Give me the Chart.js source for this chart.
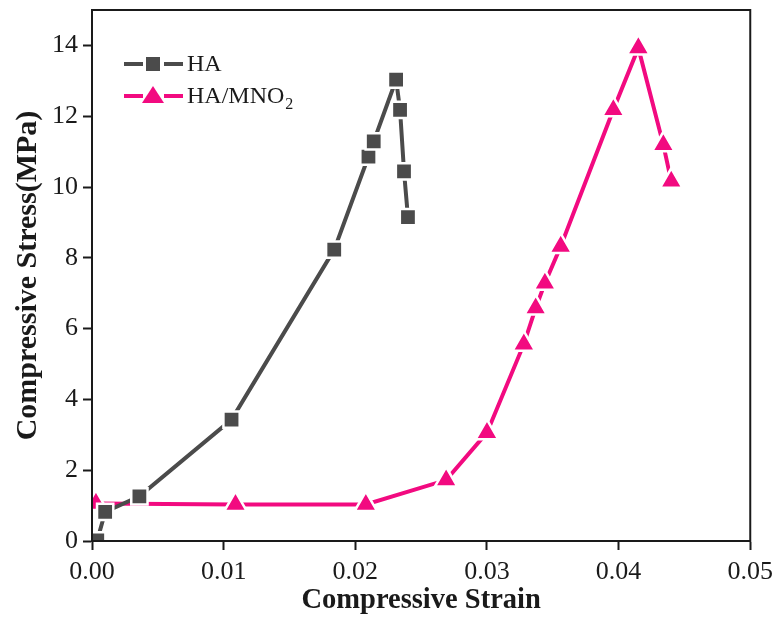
<!DOCTYPE html>
<html>
<head>
<meta charset="utf-8">
<script src="https://cdn.jsdelivr.net/npm/chart.js@4.4.1/dist/chart.umd.min.js"></script>
<style>
  html, body { margin: 0; padding: 0; background: #fff; }
  #wrap { width: 780px; height: 641px; }
</style>
</head>
<body>
<div id="wrap"><canvas id="myChart" width="780" height="641"></canvas></div>
<script>
// data
const haStrain = [0.0004, 0.0010, 0.0036, 0.0106, 0.0184, 0.0210, 0.0214, 0.0231, 0.0234, 0.0237, 0.0240];
const haStress = [0.02, 0.82, 1.26, 3.43, 8.23, 10.86, 11.29, 13.03, 12.18, 10.44, 9.15];

const mnStrain = [0.0003, 0.0109, 0.0208, 0.0269, 0.0300, 0.0328, 0.0337, 0.0344, 0.0356, 0.0396, 0.0415, 0.0434, 0.0440];
const mnStress = [1.06, 1.03, 1.03, 1.72, 3.06, 5.56, 6.58, 7.28, 8.32, 12.18, 13.93, 11.19, 10.16];

const xTicks = [0, 0.01, 0.02, 0.03, 0.04, 0.05];
const yTicks = [0, 2, 4, 6, 8, 10, 12, 14];

const grey = "#4b4b4b";
const pink = "#f20a80";
const serif = "'Liberation Serif', 'Times New Roman', serif";

const toPoints = (xs, ys) => xs.map((x, i) => ({ x: x, y: ys[i] }));

// pin the top of the plot area (chart.js keeps adding room for the top tick label)
const pinTop = {
  id: "pinTop",
  afterLayout(chart) {
    const a = chart.chartArea;
    const y = chart.scales.y;
    const top = 10;
    if (!y || a.top === top) return;
    const old = { yTop: y.top, yH: y.height, aTop: a.top, aH: a.height };
    try {
      y.top = top;
      y.height = y.bottom - top;
      y.configure();
      a.top = top;
      a.height = a.bottom - top;
    } catch (e) {
      y.top = old.yTop; y.height = old.yH; a.top = old.aTop; a.height = old.aH;
      try { y.configure(); } catch (e2) {}
    }
  }
};

// frame (top + right sides) and the legend in Origin style
const framePlugin = {
  id: "frame",
  afterDraw(chart) {
    const { ctx, chartArea: a } = chart;
    ctx.save();
    ctx.strokeStyle = "#1a1a1a";
    ctx.lineWidth = 2;
    ctx.strokeRect(a.left, a.top, a.right - a.left, a.bottom - a.top);

    // legend
    const rows = [
      { y: 64, color: grey, shape: "rect", label: "HA", sub: "" },
      { y: 96, color: pink, shape: "tri", label: "HA/MNO", sub: "2" },
    ];
    rows.forEach(r => {
      ctx.strokeStyle = r.color;
      ctx.lineWidth = 4;
      ctx.beginPath();
      ctx.moveTo(124, r.y); ctx.lineTo(143, r.y);
      ctx.moveTo(164, r.y); ctx.lineTo(183, r.y);
      ctx.stroke();
      ctx.fillStyle = r.color;
      ctx.beginPath();
      if (r.shape === "rect") {
        ctx.rect(146, r.y - 7, 14, 14);
      } else {
        ctx.moveTo(153, r.y - 10);
        ctx.lineTo(164, r.y + 7);
        ctx.lineTo(142, r.y + 7);
        ctx.closePath();
      }
      ctx.fill();
      ctx.fillStyle = "#1a1a1a";
      ctx.font = "24px " + serif;
      ctx.textBaseline = "middle";
      ctx.fillText(r.label, 187, r.y + 1);
      if (r.sub) {
        const w = ctx.measureText(r.label).width;
        ctx.font = "16px " + serif;
        ctx.fillText(r.sub, 187 + w + 1, r.y + 9);
      }
    });
    ctx.restore();
  }
};

const ctx = document.getElementById("myChart");

const chart = new Chart(ctx, {
  type: "scatter",
  data: {
    datasets: [
      {
        label: "HA",
        data: toPoints(haStrain, haStress),
        showLine: true,
        borderColor: grey,
        borderWidth: 4,
        backgroundColor: grey,
        pointStyle: "rect",
        pointRadius: 11.5,
        pointBorderColor: "#fff",
        pointBorderWidth: 2.5,
        pointBackgroundColor: grey,
        tension: 0,
      },
      {
        label: "HA/MNO2",
        data: toPoints(mnStrain, mnStress),
        showLine: true,
        borderColor: pink,
        borderWidth: 4,
        backgroundColor: pink,
        pointStyle: "triangle",
        pointRadius: 13,
        pointBorderColor: "#fff",
        pointBorderWidth: 2.5,
        pointBackgroundColor: pink,
        tension: 0,
      },
    ],
  },
  options: {
    responsive: false,
    animation: false,
    layout: { padding: { left: 0, top: 10, right: 29, bottom: 0 } },
    plugins: {
      legend: { display: false },
      tooltip: { enabled: false },
    },
    scales: {
      x: {
        type: "linear",
        min: 0,
        max: 0.05,
        afterFit: s => { s.height = 100; },
        afterBuildTicks: s => { s.ticks = xTicks.map(v => ({ value: v })); },
        border: { display: true, color: "#1a1a1a", width: 2 },
        grid: { drawOnChartArea: false, drawTicks: true, tickLength: 9, tickColor: "#1a1a1a", tickWidth: 2 },
        ticks: {
          padding: 7,
          color: "#1a1a1a",
          font: { family: serif, size: 26 },
          callback: v => Number(v).toFixed(2),
        },
        title: {
          display: true,
          text: "Compressive Strain",
          color: "#1a1a1a",
          font: { family: serif, size: 28.5, weight: "bold" },
          padding: 23,
        },
      },
      y: {
        type: "linear",
        min: 0,
        max: 15,
        afterFit: s => { s.width = 92; },
        afterBuildTicks: s => { s.ticks = yTicks.map(v => ({ value: v })); },
        border: { display: true, color: "#1a1a1a", width: 2 },
        grid: { drawOnChartArea: false, drawTicks: true, tickLength: 9, tickColor: "#1a1a1a", tickWidth: 2 },
        ticks: {
          padding: 5,
          color: "#1a1a1a",
          font: { family: serif, size: 26 },
        },
        title: {
          display: true,
          text: "Compressive Stress(MPa)",
          color: "#1a1a1a",
          font: { family: serif, size: 30, weight: "bold" },
          padding: 10,
        },
      },
    },
  },
  plugins: [pinTop, framePlugin],
});
</script>
</body>
</html>
